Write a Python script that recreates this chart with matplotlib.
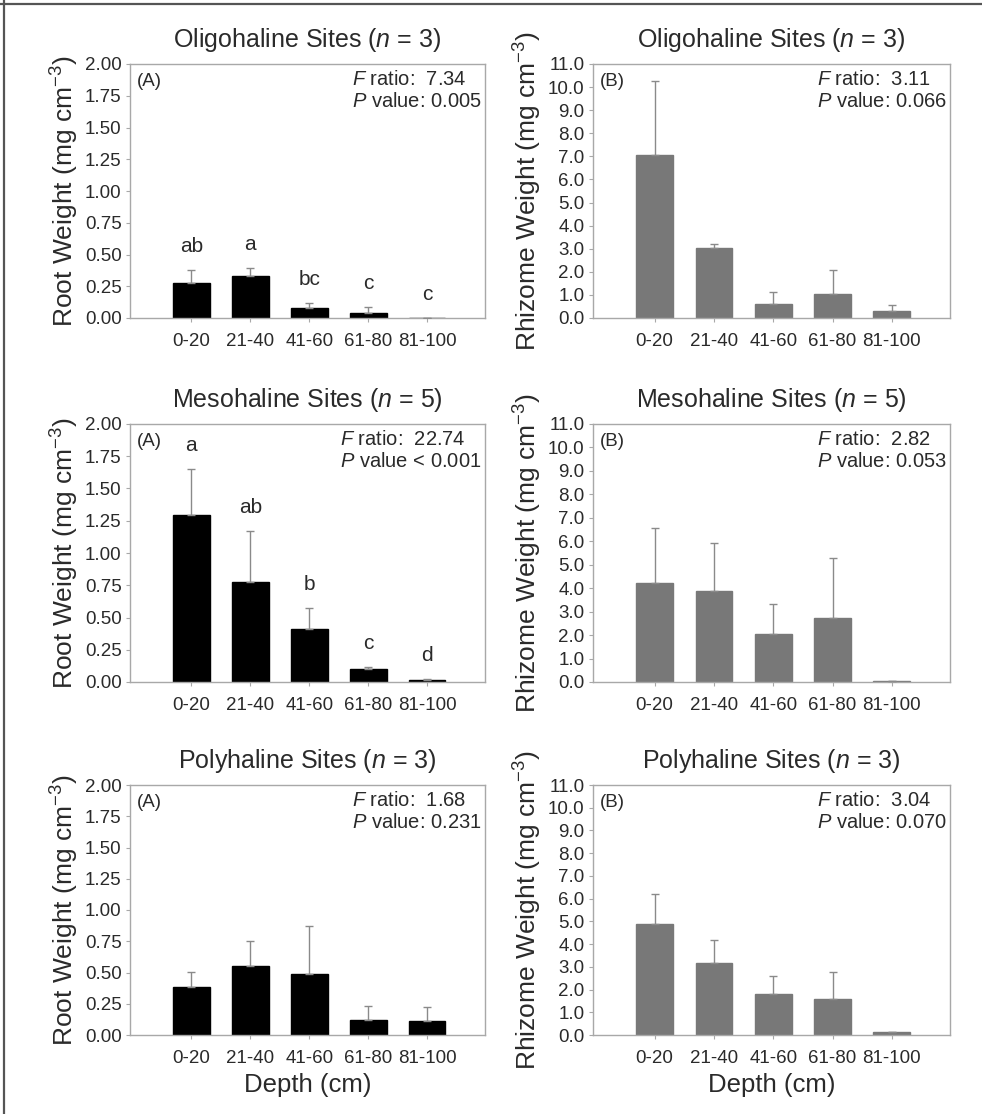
import numpy as np
import matplotlib
matplotlib.use("Agg")
import matplotlib.pyplot as plt
from matplotlib.lines import Line2D

plt.rcParams["font.family"] = ["Liberation Sans", "DejaVu Sans"]
plt.rcParams["mathtext.fontset"] = "custom"
plt.rcParams["mathtext.rm"] = "Liberation Sans"
plt.rcParams["mathtext.it"] = "Liberation Sans:italic"

depths = ["0-20", "21-40", "41-60", "61-80", "81-100"]
sites = ["Oligohaline", "Mesohaline", "Polyhaline"]
n_sites = [3, 5, 3]

# root weight (mg cm-3): mean and upper error
root_mean = [[0.276, 0.33, 0.079, 0.04, 0.0],
             [1.293, 0.779, 0.411, 0.103, 0.015],
             [0.386, 0.55, 0.49, 0.12, 0.11]]
root_err = [[0.104, 0.065, 0.041, 0.044, 0.0],
            [0.355, 0.391, 0.162, 0.013, 0.005],
            [0.119, 0.20, 0.38, 0.11, 0.116]]
root_letters = [["ab", "a", "bc", "c", "c"],
                ["a", "ab", "b", "c", "d"],
                None]
root_F = ["7.34", "22.74", "1.68"]
root_P = [": 0.005", " < 0.001", ": 0.231"]

# rhizome weight (mg cm-3)
rhiz_mean = [[7.06, 3.05, 0.62, 1.04, 0.29],
             [4.24, 3.87, 2.03, 2.75, 0.03],
             [4.88, 3.18, 1.81, 1.59, 0.12]]
rhiz_err = [[3.20, 0.16, 0.50, 1.02, 0.26],
            [2.32, 2.05, 1.31, 2.55, 0.02],
            [1.34, 0.98, 0.78, 1.17, 0.03]]
rhiz_F = ["3.11", "2.82", "3.04"]
rhiz_P = [": 0.066", ": 0.053", ": 0.070"]

W, H = 982, 1114
fig = plt.figure(figsize=(W / 100, H / 100), dpi=100)
fig.add_artist(Line2D([0, 1], [1 - 4 / H, 1 - 4 / H], color="#555555", lw=1.6))
fig.add_artist(Line2D([4 / W, 4 / W], [0, 1], color="#555555", lw=1.6))

rows_px = [(64, 318), (424, 682), (785, 1035)]
cols_px = [(130, 485), (593, 950)]
txt = "#2a2a2a"
frame = "#a8a8a8"
x = np.arange(len(depths))


def panel(ax, mean, err, color, ylim, step, fmt, tag, F, P, ylabel, letters, title, last):
    ax.bar(x, mean, width=0.62, color=color, edgecolor=color, zorder=2)
    ax.errorbar(x, mean, yerr=[np.zeros(len(err)), err], fmt="none", ecolor="#8a8a8a",
                elinewidth=1.0, capsize=3, capthick=1.0, zorder=3)
    ax.set_xlim(-1.04, 4.98)
    ax.set_ylim(0, ylim)
    ticks = np.arange(0, ylim + step / 2, step)
    ax.set_yticks(ticks)
    ax.set_yticklabels([fmt % v for v in ticks])
    ax.set_xticks(x)
    ax.set_xticklabels(depths)
    for s in ax.spines.values():
        s.set_color(frame)
        s.set_linewidth(1.0)
    ax.tick_params(axis="both", colors=frame, labelcolor=txt, labelsize=13.5,
                   length=3, width=0.8, direction="out", pad=3)
    ax.tick_params(axis="x", pad=8)
    ax.set_ylabel(ylabel, fontsize=19, color=txt, labelpad=3)
    ax.set_title(title, fontsize=18, color=txt, pad=12)
    ax.text(0.02, 0.965, tag, transform=ax.transAxes, ha="left", va="top",
            fontsize=13.5, color=txt)
    ax.text(0.99, 0.975, r"$\it{F}$ ratio:  " + F + "\n" + r"$\it{P}$ value" + P,
            transform=ax.transAxes, ha="right", va="top", multialignment="left",
            fontsize=14.5, color=txt, linespacing=1.15)
    if letters:
        for xi, m, e, lab in zip(x, mean, err, letters):
            ax.text(xi, m + e + 0.11, lab, ha="center", va="bottom", fontsize=15, color=txt)
    if last:
        ax.set_xlabel("Depth (cm)", fontsize=18.5, color=txt, labelpad=4)


for r in range(3):
    t, b = rows_px[r]
    title = sites[r] + r" Sites ($\it{n}$ = " + str(n_sites[r]) + ")"
    (l0, r0), (l1, r1) = cols_px
    ax1 = fig.add_axes([l0 / W, 1 - b / H, (r0 - l0) / W, (b - t) / H])
    panel(ax1, root_mean[r], root_err[r], "black", 2.0, 0.25, "%.2f", "(A)",
          root_F[r], root_P[r], r"Root Weight (mg cm$^{-3}$)", root_letters[r], title, r == 2)
    ax2 = fig.add_axes([l1 / W, 1 - b / H, (r1 - l1) / W, (b - t) / H])
    panel(ax2, rhiz_mean[r], rhiz_err[r], "#787878", 11.0, 1.0, "%.1f", "(B)",
          rhiz_F[r], rhiz_P[r], r"Rhizome Weight (mg cm$^{-3}$)", None, title, r == 2)

fig.savefig("out.png", dpi=100)
